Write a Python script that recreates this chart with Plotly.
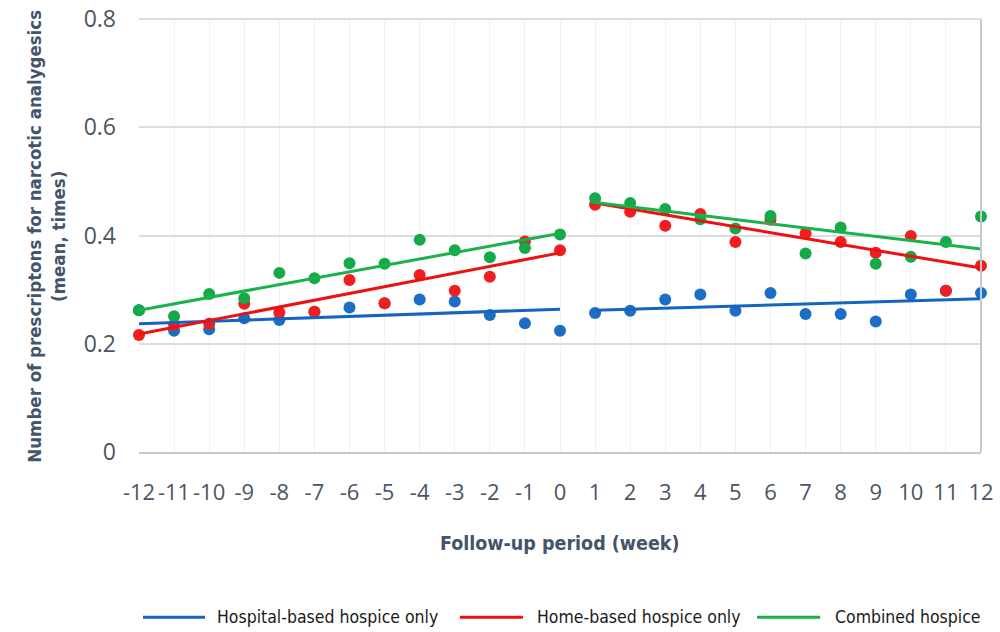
import plotly.graph_objects as go

# Follow-up weeks: 12 weeks before and 12 weeks after hospice enrolment
weeks = [-12, -11, -10, -9, -8, -7, -6, -5, -4, -3, -2, -1, 0,
         1, 2, 3, 4, 5, 6, 7, 8, 9, 10, 11, 12]

# Mean number of narcotic analgesic prescriptions per week
hospital = [0.262, 0.224, 0.227, 0.247, 0.244, 0.259, 0.267, 0.275, 0.282, 0.278, 0.253, 0.238, 0.224,
            0.257, 0.261, 0.282, 0.291, 0.261, 0.294, 0.255, 0.255, 0.241, 0.291, 0.298, 0.294]
home = [0.216, 0.235, 0.237, 0.274, 0.258, 0.259, 0.318, 0.275, 0.327, 0.298, 0.324, 0.389, 0.373,
        0.457, 0.444, 0.418, 0.440, 0.388, 0.429, 0.404, 0.388, 0.368, 0.399, 0.298, 0.344]
combined = [0.262, 0.251, 0.292, 0.284, 0.331, 0.321, 0.349, 0.348, 0.392, 0.373, 0.360, 0.377, 0.402,
            0.469, 0.460, 0.449, 0.430, 0.413, 0.436, 0.367, 0.415, 0.348, 0.361, 0.388, 0.435]

# Linear trend segments (start week, end week) with fitted values at each end
trend_weeks_pre = [-12, 0]
trend_weeks_post = [1, 12]
hospital_trend_pre = [0.237, 0.264]
hospital_trend_post = [0.262, 0.283]
home_trend_pre = [0.218, 0.368]
home_trend_post = [0.460, 0.340]
combined_trend_pre = [0.262, 0.404]
combined_trend_post = [0.461, 0.375]

series_names = ["Hospital-based hospice only", "Home-based hospice only", "Combined hospice"]
y_ticks = [0, 0.2, 0.4, 0.6, 0.8]
y_tick_text = ["0", "0.2", "0.4", "0.6", "0.8"]

dot_colors = ["#1C6EC4", "#F01E1E", "#16A94A"]
line_colors = ["#1565C0", "#EE1111", "#19B24B"]

# weeks are laid out as evenly spaced categories (0 and 1 are adjacent)
pos = {w: i for i, w in enumerate(weeks)}
xpos = [pos[w] for w in weeks]

fig = go.Figure()

for vals, col, name in zip([hospital, home, combined], dot_colors, series_names):
    fig.add_trace(go.Scatter(
        x=xpos, y=vals, mode="markers", name=name,
        marker=dict(size=12, color=col, line=dict(width=0)),
        cliponaxis=False, showlegend=False,
    ))

trends = [
    (hospital_trend_pre, hospital_trend_post),
    (home_trend_pre, home_trend_post),
    (combined_trend_pre, combined_trend_post),
]
for (pre, post), col in zip(trends, line_colors):
    for wk, vals in ((trend_weeks_pre, pre), (trend_weeks_post, post)):
        fig.add_trace(go.Scatter(
            x=[pos[w] for w in wk], y=vals, mode="lines",
            line=dict(color=col, width=3), cliponaxis=False,
            showlegend=False, hoverinfo="skip",
        ))

narrow = "DejaVu Sans Condensed, Liberation Sans Narrow, Roboto, sans-serif"
tick_font = dict(family="Open Sans, DejaVu Sans, sans-serif", size=23, color="#4B5563")
x_tick_font = dict(family="Open Sans, DejaVu Sans, sans-serif", size=22, color="#4B5563")
title_font = dict(family=narrow, size=19.5, color="#44546A")
legend_font = dict(family=narrow, size=17.5, color="#1A1A1A")

fig.update_layout(
    width=1000, height=632,
    margin=dict(l=139, r=19, t=18, b=180, autoexpand=False),
    paper_bgcolor="white", plot_bgcolor="white",
    showlegend=False,
    xaxis=dict(
        range=[0, len(weeks) - 1],
        tickmode="array", tickvals=xpos, ticktext=[str(w) for w in weeks],
        tickangle=0, automargin=False,
        showgrid=True, gridcolor="#F1F2F5", gridwidth=1,
        zeroline=False, showline=True, linecolor="#C3CAD6", linewidth=2,
        ticks="", ticklabelstandoff=20, tickfont=x_tick_font,
    ),
    yaxis=dict(
        range=[0, 0.802], automargin=False,
        tickmode="array", tickvals=y_ticks, ticktext=y_tick_text,
        showgrid=True, gridcolor="#DADDE2", gridwidth=2,
        zeroline=False, showline=False,
        ticks="", ticklabelstandoff=22, tickfont=tick_font,
    ),
)

# right-hand frame edge
fig.add_shape(type="line", xref="paper", yref="y", x0=1, x1=1, y0=0, y1=0.8,
              line=dict(color="#C3CAD6", width=2))

# axis titles
fig.add_annotation(text="Number of prescriptons for narcotic analygesics<br>(mean, times)",
                   xref="paper", yref="paper", x=-0.11, y=0.497, textangle=-90,
                   xanchor="center", yanchor="middle", showarrow=False,
                   font=dict(title_font, size=18.5, weight="bold"))
fig.add_annotation(text="Follow-up period (week)",
                   xref="paper", yref="paper", x=0.5, y=-0.210,
                   xanchor="center", yanchor="middle", showarrow=False,
                   font=dict(title_font, weight="bold"))

# legend drawn below the plot
legend_y = -0.381
legend_items = [(0.00475, 0.0784, 0.0903), (0.381, 0.456, 0.470), (0.734, 0.809, 0.824)]
for (x0, x1, xt), col, name in zip(legend_items, line_colors, series_names):
    fig.add_shape(type="line", xref="paper", yref="paper", x0=x0, x1=x1,
                  y0=legend_y, y1=legend_y, line=dict(color=col, width=3))
    fig.add_annotation(text=name, xref="paper", yref="paper", x=xt, y=legend_y,
                       xanchor="left", yanchor="middle", showarrow=False, font=legend_font)

fig.write_html("out.html")
